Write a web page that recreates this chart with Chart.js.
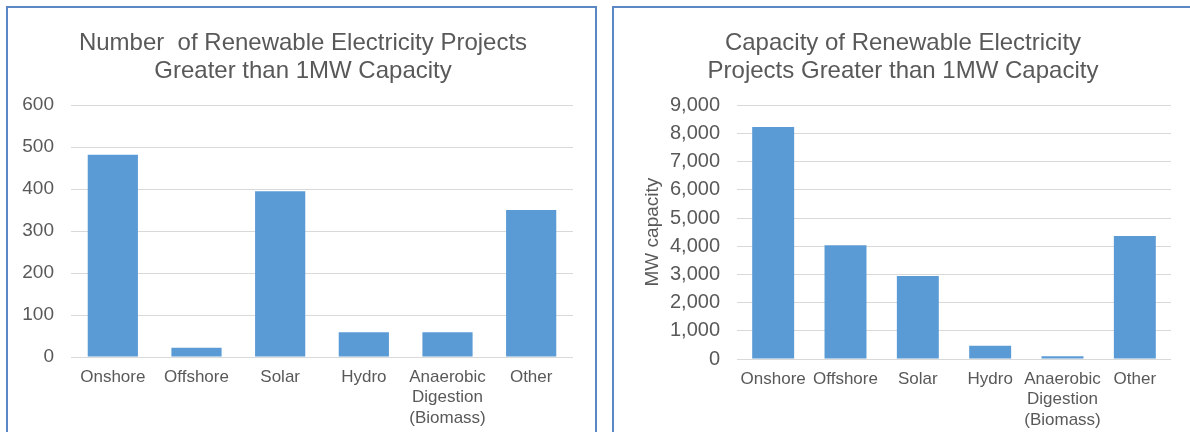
<!DOCTYPE html>
<html>
<head>
<meta charset="utf-8">
<script src="https://cdn.jsdelivr.net/npm/chart.js@4.4.0/dist/chart.umd.min.js"></script>
<style>
  html, body { margin: 0; padding: 0; background: #fff; overflow: hidden; }
  body { width: 1190px; height: 432px; position: relative; }
  .panel {
    position: absolute;
    top: 6px;
    height: 440px;
    border: 2px solid #5b87c4;
    background: #fff;
  }
  #leftPanel { left: 6px; width: 587px; }
  #rightPanel { left: 612px; width: 600px; }
  canvas { display: block; }
</style>
</head>
<body>
<div class="panel" id="leftPanel"><canvas id="countChart" width="587" height="424"></canvas></div>
<div class="panel" id="rightPanel"><canvas id="capacityChart" width="576" height="424"></canvas></div>

<script>
// technology groups shared by both charts
const categories = [
  'Onshore',
  'Offshore',
  'Solar',
  'Hydro',
  ['Anaerobic', 'Digestion', '(Biomass)'],
  'Other'
];

// number of projects over 1MW
const projectCounts = [482, 22, 395, 59, 59, 350];
const countTicks = [0, 100, 200, 300, 400, 500, 600];

// installed capacity, MW
const capacityMW = [8230, 4035, 2940, 470, 100, 4360];
const capacityTicks = [0, 1000, 2000, 3000, 4000, 5000, 6000, 7000, 8000, 9000];

const BAR_BLUE = '#5b9bd5';
const TEXT_GREY = '#595959';
const GRID_GREY = '#d9d9d9';
const FONT = 'Liberation Sans, Arial, sans-serif';

// centre the title on the panel rather than on the area left of the right padding
const centreTitle = {
  id: 'centreTitle',
  afterLayout(chart, args, opts) {
    const t = chart.titleBlock;
    if (!t) return;
    t.left = 0;
    t.right = opts.centre * 2;
  }
};

function buildChart(id, cfg) {
  const ctx = document.getElementById(id).getContext('2d');
  return new Chart(ctx, {
    type: 'bar',
    plugins: [centreTitle],
    data: {
      labels: categories,
      datasets: [{
        data: cfg.values,
        backgroundColor: BAR_BLUE,
        borderWidth: 0,
        categoryPercentage: 1,
        barPercentage: cfg.barPct
      }]
    },
    options: {
      responsive: false,
      animation: false,
      layout: { padding: { top: 0, right: cfg.rightPad, bottom: 0, left: 0 } },
      plugins: {
        legend: { display: false },
        tooltip: { enabled: false },
        centreTitle: { centre: cfg.titleCentre },
        title: {
          display: true,
          text: cfg.title,
          color: TEXT_GREY,
          font: { family: FONT, size: 24, weight: 'normal', lineHeight: 1.15 },
          padding: { top: 22, bottom: 20 }
        }
      },
      scales: {
        x: {
          afterFit: (scale) => { scale.height = cfg.xAxisHeight; },
          grid: { display: false },
          border: { display: false },
          ticks: {
            color: TEXT_GREY,
            font: { family: FONT, size: 17 },
            padding: 2,
            maxRotation: 0,
            autoSkip: false
          }
        },
        y: {
          min: 0,
          max: cfg.ticks[cfg.ticks.length - 1],
          afterBuildTicks: (scale) => {
            scale.ticks = cfg.ticks.map(v => ({ value: v }));
          },
          afterFit: (scale) => { scale.width = cfg.axisWidth; },
          grid: { color: GRID_GREY, lineWidth: 1, drawTicks: false },
          border: { display: false },
          title: {
            display: !!cfg.axisTitle,
            text: cfg.axisTitle || '',
            color: TEXT_GREY,
            font: { family: FONT, size: 19 },
            padding: { top: 27, bottom: 0 }
          },
          ticks: {
            color: TEXT_GREY,
            font: { family: FONT, size: cfg.yTickSize },
            padding: 17,
            callback: (v) => v.toLocaleString('en-US')
          }
        }
      }
    }
  });
}

buildChart('countChart', {
  values: projectCounts,
  ticks: countTicks,
  title: ['Number  of Renewable Electricity Projects', 'Greater than 1MW Capacity'],
  titleCentre: 295,
  barPct: 0.6,
  axisWidth: 63,
  rightPad: 22,
  xAxisHeight: 75,
  yTickSize: 19
});

buildChart('capacityChart', {
  values: capacityMW,
  ticks: capacityTicks,
  title: ['Capacity of Renewable Electricity', 'Projects Greater than 1MW Capacity'],
  titleCentre: 289,
  axisTitle: 'MW capacity',
  barPct: 0.58,
  axisWidth: 123,
  rightPad: 19,
  xAxisHeight: 73,
  yTickSize: 20
});
</script>
</body>
</html>
